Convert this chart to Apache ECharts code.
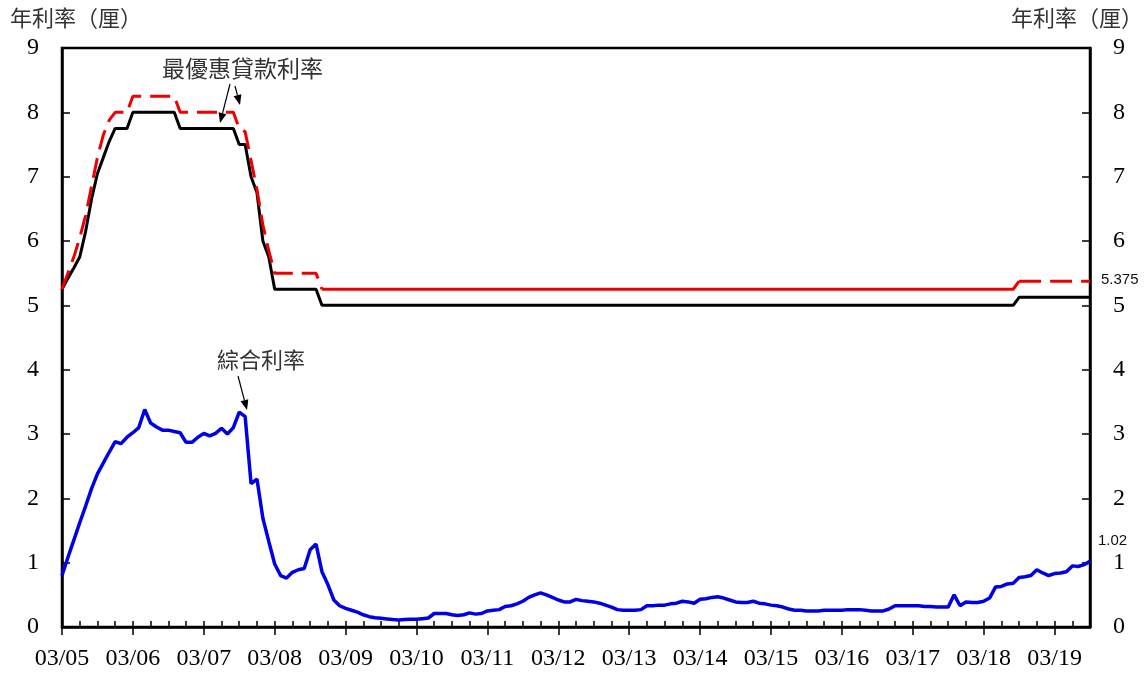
<!DOCTYPE html>
<html>
<head>
<meta charset="utf-8">
<script src="https://cdn.jsdelivr.net/npm/echarts@6/dist/echarts.min.js"></script>
<style>
html,body{margin:0;padding:0;background:#fff;}
#chart{width:1147px;height:678px;}
</style>
</head>
<body>
<div id="chart"></div>
<script>
// Monthly observations, March 2005 to September 2019 (one row per year, Mar..Feb)
const startYear = 2005, startMonth = 3, nMonths = 175;
const categories = [];
for (let k = 0; k < nMonths; k++) {
  const m = (startMonth - 1 + k) % 12 + 1;
  const y = startYear + Math.floor((startMonth - 1 + k) / 12);
  categories.push(y + '-' + (m < 10 ? '0' + m : '' + m));
}

// 最優惠貸款利率 (lower, black solid)
const primeLow = [
  5.25,5.42,5.58,5.75,6.15,6.65,7.05,7.3,7.55,7.75,7.75,7.75,
  8,8,8,8,8,8,8,8,7.75,7.75,7.75,7.75,
  7.75,7.75,7.75,7.75,7.75,7.75,7.5,7.5,7,6.75,6,5.75,
  5.25,5.25,5.25,5.25,5.25,5.25,5.25,5.25,5,5,5,5,
  5,5,5,5,5,5,5,5,5,5,5,5,
  5,5,5,5,5,5,5,5,5,5,5,5,
  5,5,5,5,5,5,5,5,5,5,5,5,
  5,5,5,5,5,5,5,5,5,5,5,5,
  5,5,5,5,5,5,5,5,5,5,5,5,
  5,5,5,5,5,5,5,5,5,5,5,5,
  5,5,5,5,5,5,5,5,5,5,5,5,
  5,5,5,5,5,5,5,5,5,5,5,5,
  5,5,5,5,5,5,5,5,5,5,5,5,
  5,5,5,5,5,5,5.125,5.125,5.125,5.125,5.125,5.125,
  5.125,5.125,5.125,5.125,5.125,5.125,5.125
];

// 最優惠貸款利率 (upper, red dashed)
const primeHigh = [
  5.25,5.5,5.75,6.05,6.4,6.85,7.3,7.65,7.88,8,8,8,
  8.25,8.25,8.25,8.25,8.25,8.25,8.25,8.25,8,8,8,8,
  8,8,8,8,8,8,7.75,7.7,7.25,6.8,6.25,5.85,
  5.5,5.5,5.5,5.5,5.5,5.5,5.5,5.5,5.25,5.25,5.25,5.25,
  5.25,5.25,5.25,5.25,5.25,5.25,5.25,5.25,5.25,5.25,5.25,5.25,
  5.25,5.25,5.25,5.25,5.25,5.25,5.25,5.25,5.25,5.25,5.25,5.25,
  5.25,5.25,5.25,5.25,5.25,5.25,5.25,5.25,5.25,5.25,5.25,5.25,
  5.25,5.25,5.25,5.25,5.25,5.25,5.25,5.25,5.25,5.25,5.25,5.25,
  5.25,5.25,5.25,5.25,5.25,5.25,5.25,5.25,5.25,5.25,5.25,5.25,
  5.25,5.25,5.25,5.25,5.25,5.25,5.25,5.25,5.25,5.25,5.25,5.25,
  5.25,5.25,5.25,5.25,5.25,5.25,5.25,5.25,5.25,5.25,5.25,5.25,
  5.25,5.25,5.25,5.25,5.25,5.25,5.25,5.25,5.25,5.25,5.25,5.25,
  5.25,5.25,5.25,5.25,5.25,5.25,5.25,5.25,5.25,5.25,5.25,5.25,
  5.25,5.25,5.25,5.25,5.25,5.25,5.375,5.375,5.375,5.375,5.375,5.375,
  5.375,5.375,5.375,5.375,5.375,5.375,5.375
];

// 綜合利率 (blue)
const composite = [
  0.80,1.08,1.35,1.62,1.88,2.15,2.38,2.55,2.72,2.88,2.85,2.95,
  3.02,3.10,3.38,3.17,3.11,3.06,3.06,3.04,3.02,2.87,2.87,2.95,
  3.01,2.97,3.01,3.09,3.00,3.10,3.34,3.27,2.23,2.30,1.69,1.33,
  0.98,0.80,0.76,0.85,0.89,0.91,1.20,1.29,0.86,0.66,0.42,0.33,
  0.29,0.26,0.23,0.19,0.16,0.145,0.135,0.125,0.115,0.11,0.115,0.12,
  0.12,0.13,0.14,0.21,0.21,0.21,0.19,0.18,0.19,0.22,0.20,0.21,
  0.25,0.26,0.27,0.32,0.33,0.36,0.40,0.46,0.50,0.53,0.50,0.46,
  0.42,0.39,0.39,0.43,0.41,0.40,0.39,0.37,0.34,0.31,0.27,0.26,
  0.26,0.26,0.27,0.33,0.33,0.34,0.34,0.36,0.37,0.40,0.39,0.37,
  0.43,0.44,0.46,0.47,0.45,0.42,0.39,0.38,0.38,0.40,0.37,0.36,
  0.34,0.33,0.31,0.28,0.26,0.26,0.25,0.25,0.25,0.26,0.26,0.26,
  0.26,0.27,0.27,0.27,0.26,0.25,0.25,0.25,0.28,0.33,0.33,0.33,
  0.33,0.33,0.32,0.32,0.31,0.31,0.31,0.50,0.33,0.39,0.38,0.38,
  0.40,0.45,0.62,0.63,0.67,0.68,0.77,0.78,0.80,0.89,0.84,0.80,
  0.83,0.84,0.86,0.95,0.94,0.97,1.02
];

const yTicks = [0,1,2,3,4,5,6,7,8,9];

// Red line: dashed where the rate moves, solid during the long 2008-2018 plateau
const solidFrom = 44, solidTo = 162;
const redDashA = primeHigh.map((v, i) => i <= solidFrom ? v : null);
const redSolid = primeHigh.map((v, i) => (i >= solidFrom && i <= solidTo) ? v : null);
const redDashB = primeHigh.map((v, i) => i >= solidTo ? v : null);

const SERIF = '"Liberation Serif","Times New Roman",serif';
const SANS = '"Liberation Sans",Arial,sans-serif';
const CJK = '"Noto Sans CJK TC","Noto Sans CJK SC",sans-serif';
const RED = '#ee0000', BLUE = '#0000e6';

function arrow(x1, y1, x2, y2) {
  const a = Math.atan2(y2 - y1, x2 - x1), L = 10, W = 4;
  const c = Math.cos(a), s = Math.sin(a);
  const bx = x2 - L * c, by = y2 - L * s;
  return [
    {type:'line', shape:{x1:x1, y1:y1, x2:bx, y2:by}, style:{stroke:'#000', lineWidth:1.2}},
    {type:'polygon', shape:{points:[[x2,y2],[bx - W*s, by + W*c],[bx + W*s, by - W*c]]}, style:{fill:'#000'}}
  ];
}

const chart = echarts.init(document.getElementById('chart'));
const yAxisCommon = {
  type:'value', min:0, max:9, interval:1,
  axisLine:{show:true, lineStyle:{color:'#000', width:2.5}},
  axisTick:{show:true, inside:true, length:8, lineStyle:{color:'#000', width:1.5}},
  axisLabel:{margin:23, fontFamily:SERIF, fontSize:24, color:'#000',
    formatter: v => yTicks.indexOf(v) >= 0 ? String(v) : ''},
  splitLine:{show:false}
};

const option = {
  animation:false,
  backgroundColor:'#fff',
  grid:{left:62, right:57, top:48, bottom:51, show:true, borderColor:'#000', borderWidth:2.5},
  xAxis:[
    {type:'category', data:categories, boundaryGap:false, position:'bottom',
     axisLine:{lineStyle:{color:'#000', width:2.5}},
     axisTick:{inside:true, length:6, interval:(i) => i % 3 === 0, lineStyle:{color:'#000', width:1.5}},
     axisLabel:{interval:(i) => i % 12 === 0, margin:20, fontFamily:SERIF, fontSize:24, color:'#000',
       formatter: v => v.slice(5) + '/' + v.slice(2,4)},
     splitLine:{show:false}},
    {type:'category', data:categories, boundaryGap:false, position:'bottom',
     axisLine:{show:false},
     axisTick:{inside:false, length:8, interval:(i) => i % 12 === 0, lineStyle:{color:'#000', width:1.5}},
     axisLabel:{show:false}, splitLine:{show:false}}
  ],
  yAxis:[
    Object.assign({}, yAxisCommon, {position:'left'}),
    Object.assign({}, yAxisCommon, {position:'right'})
  ],
  series:[
    {name:'綜合利率', type:'line', data:composite, showSymbol:false, xAxisIndex:0, yAxisIndex:0,
     lineStyle:{color:BLUE, width:3.5}, itemStyle:{color:BLUE},
     endLabel:{show:true, formatter: p => p.value.toFixed(2), distance:8, offset:[0,-21],
       fontFamily:SANS, fontSize:15, color:'#111'}},
    {name:'最優惠貸款利率', type:'line', data:primeLow, showSymbol:false, xAxisIndex:0, yAxisIndex:0,
     lineStyle:{color:'#000', width:3}, itemStyle:{color:'#000'}},
    {name:'最優惠貸款利率(上)', type:'line', data:redDashA, showSymbol:false, connectNulls:false,
     lineStyle:{color:RED, width:3, type:[20,9]}, itemStyle:{color:RED}},
    {name:'最優惠貸款利率(上)2', type:'line', data:redSolid, showSymbol:false, connectNulls:false,
     lineStyle:{color:RED, width:3}, itemStyle:{color:RED}},
    {name:'最優惠貸款利率(上)3', type:'line', data:redDashB, showSymbol:false, connectNulls:false,
     lineStyle:{color:RED, width:3, type:[22,9]}, itemStyle:{color:RED},
     endLabel:{show:true, formatter: p => String(p.value), distance:11, offset:[0,-1],
       fontFamily:SANS, fontSize:15, color:'#111'}}
  ],
  graphic:[
    {type:'text', left:10, top:7, style:{text:'年利率（厘）', font:'22px ' + CJK, fill:'#333'}},
    {type:'text', left:1011, top:7, style:{text:'年利率（厘）', font:'22px ' + CJK, fill:'#333'}},
    {type:'text', left:162, top:57, style:{text:'最優惠貸款利率', font:'23px ' + CJK, fill:'#333'}},
    {type:'text', left:217, top:349, style:{text:'綜合利率', font:'22px ' + CJK, fill:'#333'}}
  ].concat(arrow(230, 84, 220, 123), arrow(235, 86, 240, 105), arrow(238, 376, 247, 410))
};
chart.setOption(option);
</script>
</body>
</html>
